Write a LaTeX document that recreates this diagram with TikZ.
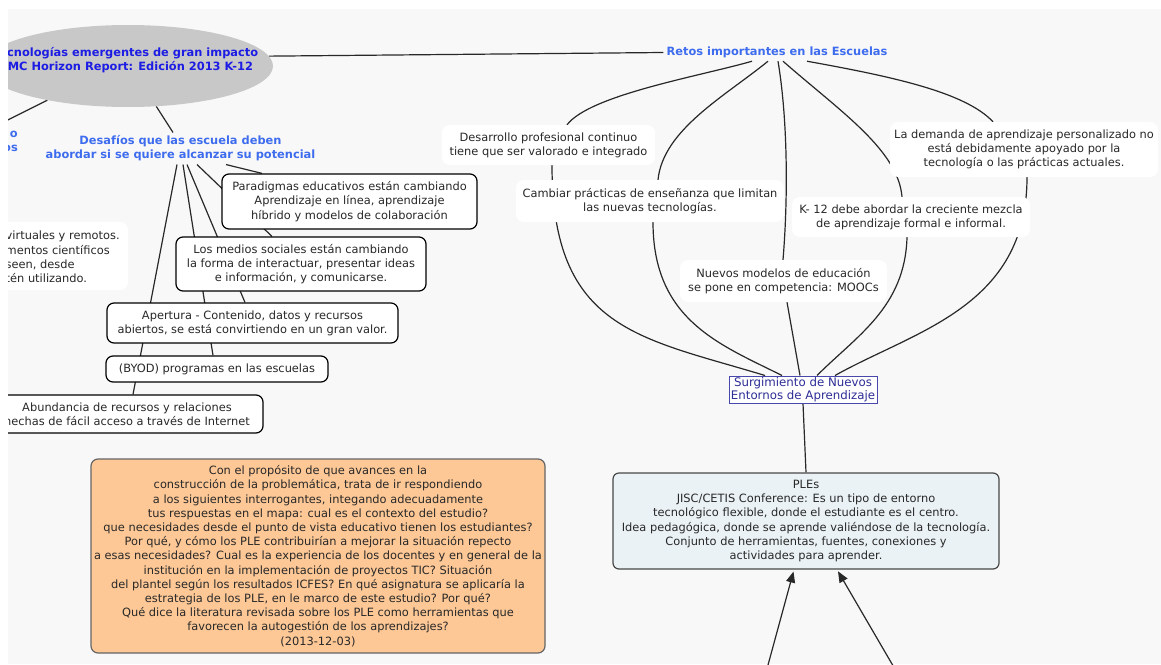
\documentclass[tikz,border=0pt]{standalone}
\usepackage{fontspec}
\setmainfont{DejaVu Sans}
\usetikzlibrary{shapes.geometric,arrows.meta}
\pgfdeclarelayer{bg}
\pgfdeclarelayer{edges}
\pgfsetlayers{bg,edges,main}
\definecolor{paper}{RGB}{248,248,248}
\definecolor{ovalgray}{RGB}{200,200,200}
\definecolor{deepblue}{RGB}{28,28,228}
\definecolor{royal}{RGB}{62,108,238}
\definecolor{navy}{RGB}{46,46,150}
\definecolor{navyline}{RGB}{72,72,172}
\definecolor{peach}{RGB}{253,200,150}
\definecolor{mist}{RGB}{234,242,245}
\definecolor{ink}{RGB}{40,40,40}
\tikzset{
  txt/.style={font=\fontsize{11.4}{14.2}\selectfont, text=ink, align=center, inner sep=0pt},
  hdr/.style={font=\fontsize{11.4}{14.2}\selectfont\bfseries, text=royal, align=center, inner sep=3pt},
  cbox/.style={txt, draw=black, line width=1.2pt, fill=white, rounded corners=7pt},
  rbox/.style={txt, fill=white, rounded corners=8pt},
  link/.style={draw=ink, line width=1.2pt},
  tip/.style={link, -{Triangle[length=11pt,width=9pt]}, shorten >=2pt},
}
\begin{document}
\begin{tikzpicture}[x=1pt,y=-1pt]
\useasboundingbox (0,0) rectangle (1161,664);
\begin{pgfonlayer}{bg}
  \fill[white] (0,0) rectangle (1161,664);
  \fill[paper] (8,9) rectangle (1161,664);
\end{pgfonlayer}

\begin{scope}
\clip (8,9) rectangle (1161,664);
% main topic
\node[ellipse, fill=ovalgray, minimum width=290, minimum height=82, inner sep=0pt] (tema) at (128,66) {};
\node[hdr, text=deepblue, inner sep=0pt] (tematxt) at (125.7,60.5) {Tecnologías emergentes de gran impacto\\NMC Horizon Report: Edición 2013 K-12};
\node[hdr] (retos) at (777,52.5) {Retos importantes en las Escuelas};
\node[hdr] (desaf) at (180.5,148.5) {Desafíos que las escuela deben\\abordar si se quiere alcanzar su potencial};
\node[hdr, text width=60, align=right, inner sep=1pt, anchor=east] (lefto) at (19,141.5) {o\\os};

% challenges
\node[cbox, minimum width=255, minimum height=55] (parad) at (349.5,201.5) {Paradigmas educativos están cambiando\\Aprendizaje en línea, aprendizaje\\híbrido y modelos de colaboración};
\node[cbox, minimum width=250, minimum height=54] (medios) at (301,264) {Los medios sociales están cambiando\\la forma de interactuar, presentar ideas\\e información, y comunicarse.};
\node[cbox, minimum width=291, minimum height=40] (apert) at (252.5,323) {Apertura - Contenido, datos y recursos\\abiertos, se está convirtiendo en un gran valor.};
\node[cbox, minimum width=222, minimum height=26] (byod) at (217,369) {(BYOD) programas en las escuelas};
\node[cbox, minimum width=272, minimum height=38] (abund) at (127,414) {Abundancia de recursos y relaciones\\hechas de fácil acceso a través de Internet};
\node[rbox, minimum width=150, minimum height=68] (virtbox) at (53,256) {};
\node[txt, align=left, anchor=north west] (virt) at (5.5,231) {virtuales y remotos.\\mentos científicos\\seen, desde\\tén utilizando.};

% important issues
\node[rbox, minimum width=213, minimum height=40] (desarr) at (548.5,145) {Desarrollo profesional continuo\\tiene que ser valorado e integrado};
\node[rbox, minimum width=268, minimum height=42] (cambiar) at (650,201) {Cambiar prácticas de enseñanza que limitan\\las nuevas tecnologías.};
\node[rbox, minimum width=207, minimum height=42] (nuevos) at (783.5,281) {Nuevos modelos de educación\\se pone en competencia: MOOCs};
\node[rbox, minimum width=238, minimum height=40] (k12) at (911,217) {K- 12 debe abordar la creciente mezcla\\de aprendizaje formal e informal.};
\node[rbox, minimum width=268, minimum height=55] (demanda) at (1024,149.5) {La demanda de aprendizaje personalizado no\\está debidamente apoyado por la\\tecnología o las prácticas actuales.};

\node[txt, font=\fontsize{11.8}{13}\selectfont, text=navy, draw=navyline, line width=1pt, fill=white, minimum width=148, minimum height=27] (surg) at (803,389.5) {Surgimiento de Nuevos\\Entornos de Aprendizaje};

\node[txt, draw=ink!85, line width=1.2pt, fill=mist, rounded corners=6pt, minimum width=386, minimum height=96] (ples) at (806,521) {PLEs\\JISC/CETIS Conference: Es un tipo de entorno\\tecnológico flexible, donde el estudiante es el centro.\\Idea pedagógica, donde se aprende valiéndose de la tecnología.\\Conjunto de herramientas, fuentes, conexiones y\\actividades para aprender.};

\node[txt, draw=black!60, line width=1.2pt, fill=peach, rounded corners=7pt, minimum width=454, minimum height=194] (nota) at (318,556) {Con el propósito de que avances en la\\construcción de la problemática, trata de ir respondiendo\\a los siguientes interrogantes, integando adecuadamente\\tus respuestas en el mapa: cual es el contexto del estudio?\\que necesidades desde el punto de vista educativo tienen los estudiantes?\\Por qué, y cómo los PLE contribuirían a mejorar la situación repecto\\a esas necesidades? Cual es la experiencia de los docentes y en general de la\\institución en la implementación de proyectos TIC? Situación\\del plantel según los resultados ICFES? En qué asignatura se aplicaría la\\estrategia de los PLE, en le marco de este estudio? Por qué?\\Qué dice la literatura revisada sobre los PLE como herramientas que\\favorecen la autogestión de los aprendizajes?\\(2013-12-03)};

\coordinate (srcA) at (765,676);
\coordinate (srcB) at (899,676);
\end{scope}

\begin{pgfonlayer}{edges}
\begin{scope}
\clip (8,9) rectangle (1161,664);
% from the main topic
\draw[link] (tema.4) -- (retos.west);
\draw[link] (tema.-55) -- ([xshift=-7.5pt]desaf.north);
\draw[link] (tema.203) -- (lefto.north);
% challenges
\draw[link] ([xshift=-3.5pt]desaf.south) -- ([xshift=6pt]abund.north);
\draw[link] ([xshift=2.5pt]desaf.south) -- ([xshift=-4pt]byod.north);
\draw[link] ([xshift=6.5pt]desaf.south) -- ([xshift=-7.5pt]apert.north);
\draw[link] ([xshift=16.5pt]desaf.south) -- ([xshift=-29pt]medios.north);
\draw[link] ([xshift=45.5pt]desaf.south) -- ([xshift=-87.5pt]parad.north);
% important issues
\draw[link] ([xshift=-25pt]retos.south) .. controls +(-52,15) and +(23,-30) .. ([xshift=18.5pt]desarr.north);
\draw[link] ([xshift=-9pt]retos.south) .. controls +(-43,35) and +(5,-50) .. ([xshift=8pt]cambiar.north);
\draw[link] ([xshift=1pt]retos.south) .. controls +(10,60) and +(5,-60) .. ([xshift=-0.5pt]nuevos.north);
\draw[link] ([xshift=6pt]retos.south) .. controls +(57,50) and +(-4,-47) .. ([xshift=-9pt]k12.north);
\draw[link] ([xshift=30pt]retos.south) .. controls +(83,15) and +(-28,-30) .. ([xshift=-31pt]demanda.north);
% towards the new environments
\draw[link] ([xshift=3.5pt]desarr.south) .. controls +(0,165) and +(-125,-38) .. ([xshift=-38pt]surg.north);
\draw[link] ([xshift=3pt]cambiar.south) .. controls +(0,98) and +(-62,-31) .. ([xshift=-21pt]surg.north);
\draw[link] ([xshift=3.5pt]nuevos.south) -- ([xshift=-3pt]surg.north);
\draw[link] ([xshift=-4pt]k12.south) .. controls +(-2,70) and +(40,-40) .. ([xshift=14pt]surg.north);
\draw[link] ([xshift=3pt]demanda.south) .. controls +(0,130) and +(80,-45) .. ([xshift=32pt]surg.north);
\draw[link] (surg.south) -- (ples.north);
% incoming arrows
\draw[tip] (srcA) -- ([xshift=-12pt]ples.south);
\draw[tip] (srcB) -- ([xshift=31pt]ples.south);
\end{scope}
\end{pgfonlayer}
\end{tikzpicture}
\end{document}
